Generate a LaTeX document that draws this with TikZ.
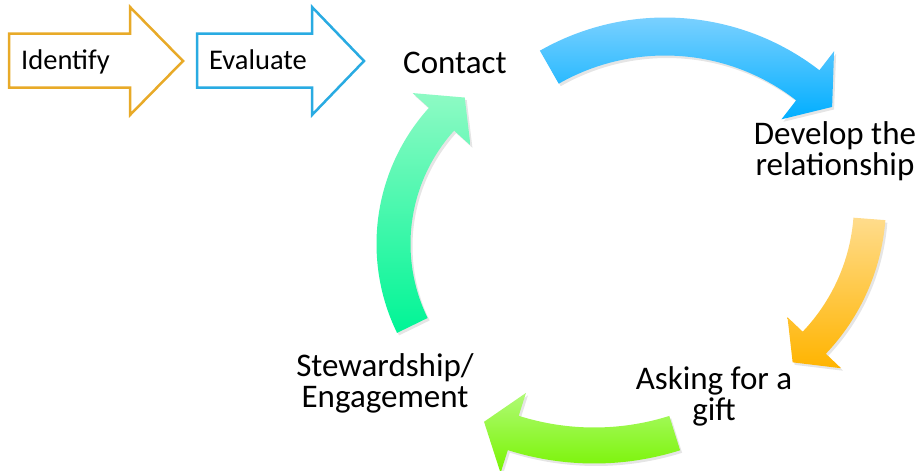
\documentclass[tikz,border=0pt]{standalone}
\usepackage{fontspec}
\setmainfont{Carlito}
\usetikzlibrary{calc}

\definecolor{idorange}{RGB}{232,170,40}
\definecolor{evblue}{RGB}{41,171,226}
\definecolor{blueTop}{RGB}{142,214,255}
\definecolor{blueBot}{RGB}{0,174,255}
\definecolor{orangeTop}{RGB}{255,220,140}
\definecolor{orangeBot}{RGB}{255,180,0}
\definecolor{limeTop}{RGB}{176,250,118}
\definecolor{limeBot}{RGB}{120,244,0}
\definecolor{mintTop}{RGB}{142,250,196}
\definecolor{mintBot}{RGB}{0,245,150}

% curved block arrow on a circle:
% #1,#2 centre, #3 mid radius, #4 half shaft width, #5 half head width,
% #6 tail angle, #7 head base angle, #8 tip angle, #9 style
\newcommand{\cyclearrow}[9]{%
  \path[#9]
    ($(#1,#2)+(#6:#3+#4)$) arc[start angle=#6, end angle=#7, radius=#3+#4]
    -- ($(#1,#2)+(#7:#3+#5)$)
    -- ($(#1,#2)+(#8:#3)$)
    -- ($(#1,#2)+(#7:#3-#5)$)
    -- ($(#1,#2)+(#7:#3-#4)$) arc[start angle=#7, end angle=#6, radius=#3-#4]
    -- cycle;}

\tikzset{
  stagearrow/.style={line width=2.5pt, line join=miter, fill=white},
  stagetext/.style={font=\fontsize{28.5}{30}\selectfont, anchor=base west, inner sep=0pt},
  cyclelabel/.style={font=\fontsize{33}{31}\selectfont, align=center, anchor=base, inner sep=0pt},
  blockshadow/.style={preaction={fill=black, opacity=0.10,
      transform canvas={shift={(2pt,-2.5pt)}}}},
  bluearrow/.style={blockshadow, top color=blueTop, bottom color=blueBot},
  orangearrow/.style={blockshadow, top color=orangeTop, bottom color=orangeBot},
  limearrow/.style={blockshadow, top color=limeTop, bottom color=limeBot},
  mintarrow/.style={blockshadow, top color=mintTop, bottom color=mintBot},
}

\begin{document}
\begin{tikzpicture}[x=1pt, y=-1pt]
  \useasboundingbox (0,0) rectangle (919,471);

  % preliminary stages
  \draw[stagearrow, draw=idorange]
    (9,33.5) -- (130,33.5) -- (130,7) -- (183,61) -- (130,115) -- (130,87.5) -- (9,87.5) -- cycle;
  \draw[stagearrow, draw=evblue]
    (197,33.5) -- (312,33.5) -- (312,7) -- (364,61) -- (312,115) -- (312,87.5) -- (197,87.5) -- cycle;
  \node[stagetext] (identify) at (21,69) {Identify};
  \node[stagetext] (evaluate) at (209,69) {Evaluate};

  % cycle arrows
  \cyclearrow{665}{270}{233.5}{19}{43}{-119.7}{-52.3}{-44.3}{bluearrow}
  \cyclearrow{668}{203.4}{202}{16}{37}{4.4}{43.6}{51.9}{orangearrow}
  \cyclearrow{594.2}{177.8}{267.7}{18}{42}{72.5}{107.6}{114.3}{limearrow}
  \cyclearrow{579.5}{243.9}{186}{17}{39}{154}{222.1}{231.9}{mintarrow}

  % cycle stages (anchor at the baseline of the last line)
  \node[cyclelabel, anchor=base west] (contact) at (403,73) {Contact};
  \node[cyclelabel] (develop) at (835,175) {Develop the\\relationship};
  \node[cyclelabel] (asking) at (714,420) {Asking for a\\gift};
  \node[cyclelabel] (steward) at (385,407) {Stewardship/\\Engagement};
\end{tikzpicture}
\end{document}
